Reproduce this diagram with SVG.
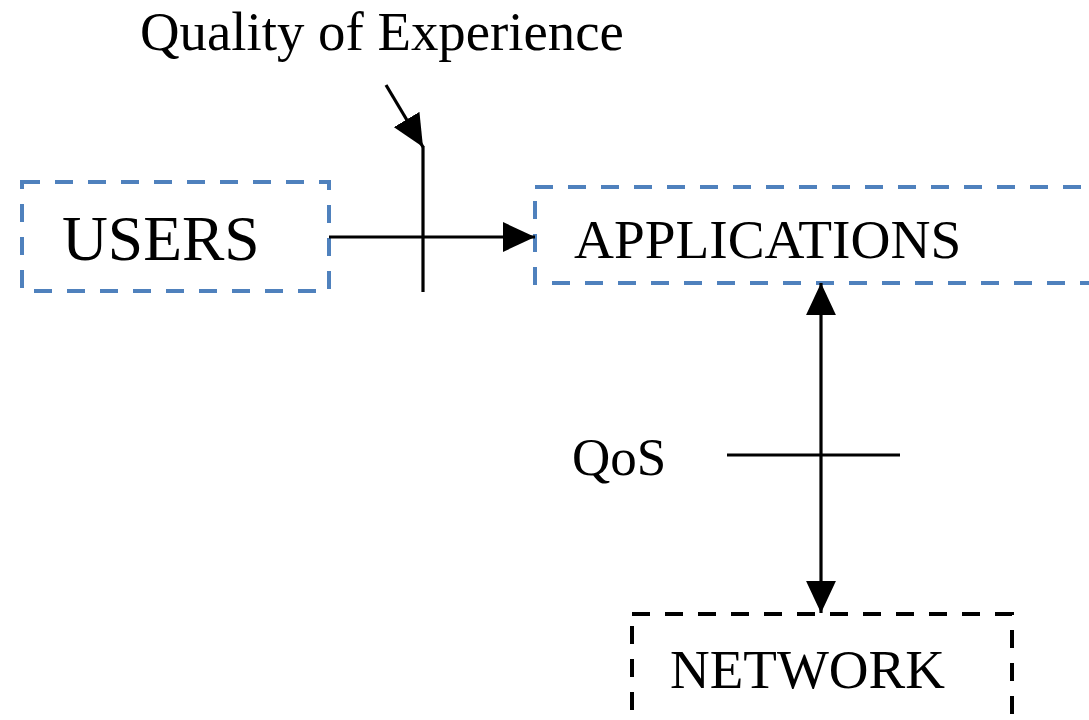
<svg xmlns="http://www.w3.org/2000/svg" width="1089" height="720" viewBox="0 0 1089 720">
<style>
.lbl{font-family:"Liberation Serif","Times New Roman",serif;fill:#000}
.box{fill:none;stroke-width:4;stroke-dasharray:18 15}
.blue{stroke:#4f81bd}
.black{stroke:#000}
.ln{stroke:#000;stroke-width:3.2;fill:none}
</style>
<defs>
<marker id="ah" markerUnits="userSpaceOnUse" markerWidth="32" markerHeight="30" viewBox="0 0 30 28" refX="30" refY="14" orient="auto-start-reverse">
<path d="M0,0 L30,14 L0,28 z" fill="#000"/>
</marker>
</defs>
<rect width="1089" height="720" fill="#fff"/>
<text class="lbl" x="140" y="50" font-size="54.8">Quality of Experience</text>
<g id="users">
<rect class="box blue" x="22" y="182" width="307" height="109"/>
<text class="lbl" x="62" y="260" font-size="63.5">USERS</text>
</g>
<g id="applications">
<rect class="box blue" x="535" y="187" width="580" height="96"/>
<text class="lbl" x="574" y="258" font-size="55.3">APPLICATIONS</text>
</g>
<g id="network">
<rect class="box black" x="632" y="614" width="380" height="130"/>
<text class="lbl" x="670" y="688" font-size="55">NETWORK</text>
</g>
<g id="qos">
<text class="lbl" x="572" y="475" font-size="53">QoS</text>
</g>
<g id="connectors">
<line class="ln" x1="329" y1="237" x2="535" y2="237" marker-end="url(#ah)"/>
<line class="ln" x1="423" y1="146" x2="423" y2="292"/>
<line class="ln" x1="386" y1="85" x2="423" y2="147" marker-end="url(#ah)"/>
<line class="ln" x1="821" y1="283" x2="821" y2="613" marker-start="url(#ah)" marker-end="url(#ah)"/>
<line class="ln" x1="727" y1="455" x2="900" y2="455"/>
</g>
</svg>
